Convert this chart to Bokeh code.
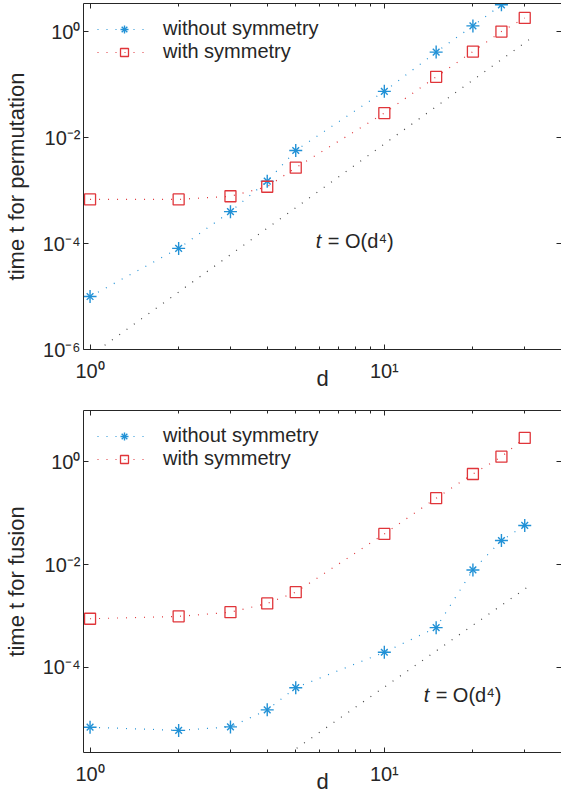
from bokeh.plotting import figure
from bokeh.models import (FixedTicker, CustomJSTickFormatter, Label, Legend, LogAxis, Range1d)
from bokeh.layouts import column
from bokeh.embed import file_html
from bokeh.resources import INLINE

# ---------------- data ----------------
d = [1, 2, 3, 4, 5, 10, 15, 20, 25, 30]
perm_without_d = [1, 2, 3, 4, 5, 10, 15, 20, 25]
perm_without = [1.0e-5, 8.1e-5, 4.0e-4, 1.5e-3, 5.7e-3, 0.0745, 0.41, 1.28, 3.2]
perm_with = [6.8e-4, 6.8e-4, 7.8e-4, 1.18e-3, 2.7e-3, 0.029, 0.14, 0.42, 1.0, 1.81]
fus_without = [6.8e-6, 5.9e-6, 6.9e-6, 1.48e-5, 4.0e-5, 1.96e-4, 5.9e-4, 7.85e-3, 0.0294, 0.0578]
fus_with = [8.8e-4, 9.8e-4, 1.18e-3, 1.75e-3, 2.9e-3, 0.0395, 0.196, 0.58, 1.26, 2.92]
ref_d = [1, 31]
perm_ref = [7.6e-7, 0.70]
fus_ref = [4.1e-9, 3.8e-3]

x_major = [1, 10]
x_minor = [2, 3, 4, 5, 6, 7, 8, 9, 20, 30, 40]
perm_yticks = [1e-6, 1e-4, 1e-2, 1]
fus_yticks = [1e-4, 1e-2, 1]

FONT = "Liberation Sans"
TXT = "#262626"
BLUE = "#2191d6"
RED = "#e0353a"
REFC = "#444444"

sup_js = """
const s = {'0':'\u2070','1':'\u00b9','2':'\u00b2','3':'\u00b3','4':'\u2074','5':'\u2075',
           '6':'\u2076','7':'\u2077','8':'\u2078','9':'\u2079','-':'\u207b'};
const e = Math.round(Math.log10(tick));
return '10' + String(e).split('').map(c => s[c]).join('');
"""


def style_axis(ax, ticker, labels=True):
    ax.ticker = ticker
    ax.axis_line_color = TXT
    ax.major_tick_line_color = TXT
    ax.minor_tick_line_color = TXT
    ax.major_tick_in = 5
    ax.major_tick_out = 0
    ax.minor_tick_in = 3
    ax.minor_tick_out = 0
    if labels:
        ax.formatter = CustomJSTickFormatter(code=sup_js)
        ax.major_label_text_font = FONT
        ax.major_label_text_font_size = "20px"
        ax.major_label_text_color = TXT
        ax.axis_label_text_font = FONT
        ax.axis_label_text_font_size = "22px"
        ax.axis_label_text_font_style = "normal"
        ax.axis_label_text_color = TXT
    else:
        ax.major_label_text_font_size = "0px"
        ax.major_label_standoff = 0
        ax.formatter = CustomJSTickFormatter(code="return '';")


def make_fig(height, top, bottom, yr, yticks, ylabel, xw, yw, ywith, yref, ann_x, ann_y):
    p = figure(width=561, height=height, x_axis_type="log", y_axis_type="log",
               x_range=Range1d(0.95, 40), y_range=Range1d(*yr),
               output_backend="svg", toolbar_location=None,
               min_border_left=76, min_border_right=0,
               min_border_top=top, min_border_bottom=bottom)
    p.outline_line_color = None
    p.xgrid.visible = False
    p.ygrid.visible = False

    style_axis(p.xaxis[0], FixedTicker(ticks=x_major, minor_ticks=x_minor))
    p.xaxis[0].axis_label = "d"
    p.xaxis[0].major_label_standoff = 10
    p.xaxis[0].axis_label_standoff = -19
    style_axis(p.yaxis[0], FixedTicker(ticks=yticks, minor_ticks=[]))
    p.yaxis[0].axis_label = ylabel
    p.yaxis[0].major_label_standoff = 3
    p.yaxis[0].axis_label_standoff = 11

    top_ax = LogAxis()
    style_axis(top_ax, FixedTicker(ticks=x_major, minor_ticks=x_minor), labels=False)
    p.add_layout(top_ax, "above")
    right_ax = LogAxis()
    style_axis(right_ax, FixedTicker(ticks=yticks, minor_ticks=[]), labels=False)
    right_ax.axis_line_color = None
    p.add_layout(right_ax, "right")

    p.line(ref_d, yref, line_color=REFC, line_dash="1 8", line_width=1.2)
    l1 = p.line(xw, yw, line_color=BLUE, line_dash="1 8", line_width=1.2)
    s1a = p.scatter(xw, yw, marker="cross", size=13, line_color=BLUE, line_width=1.4)
    s1b = p.scatter(xw, yw, marker="x", size=9.5, line_color=BLUE, line_width=1.4)
    l2 = p.line(d, ywith, line_color=RED, line_dash="1 8", line_width=1.2)
    s2 = p.scatter(d, ywith, marker="square", size=11, line_color=RED, fill_color=None, line_width=1.3)

    legend = Legend(items=[("without symmetry", [l1, s1a, s1b]), ("with symmetry", [l2, s2])],
                    location="top_left", border_line_color=None, background_fill_alpha=0,
                    label_text_font=FONT, label_text_font_size="20px", label_text_color=TXT,
                    glyph_width=54, label_standoff=12, padding=16, margin=14, spacing=0)
    p.add_layout(legend)

    p.add_layout(Label(x=ann_x, y=ann_y, text="t", text_font=FONT, text_font_size="20px",
                       text_font_style="italic", text_color=TXT, text_baseline="middle"))
    p.add_layout(Label(x=ann_x, y=ann_y, x_offset=12, text="= O(d\u2074)", text_font=FONT,
                       text_font_size="20px", text_color=TXT, text_baseline="middle"))
    return p


p1 = make_fig(397, 3, 48, (1e-6, 10 ** 0.53), perm_yticks, "time t for permutation",
              perm_without_d, perm_without, perm_with, perm_ref, 5.85, 1.1e-4)
p2 = make_fig(399, 13, 44, (10 ** -5.66, 10.0), fus_yticks, "time t for fusion",
              d, fus_without, fus_with, fus_ref, 13.6, 2.9e-5)

layout = column(p1, p2, spacing=0)
with open("out.html", "w", encoding="utf-8") as f:
    f.write(file_html(layout, INLINE))
